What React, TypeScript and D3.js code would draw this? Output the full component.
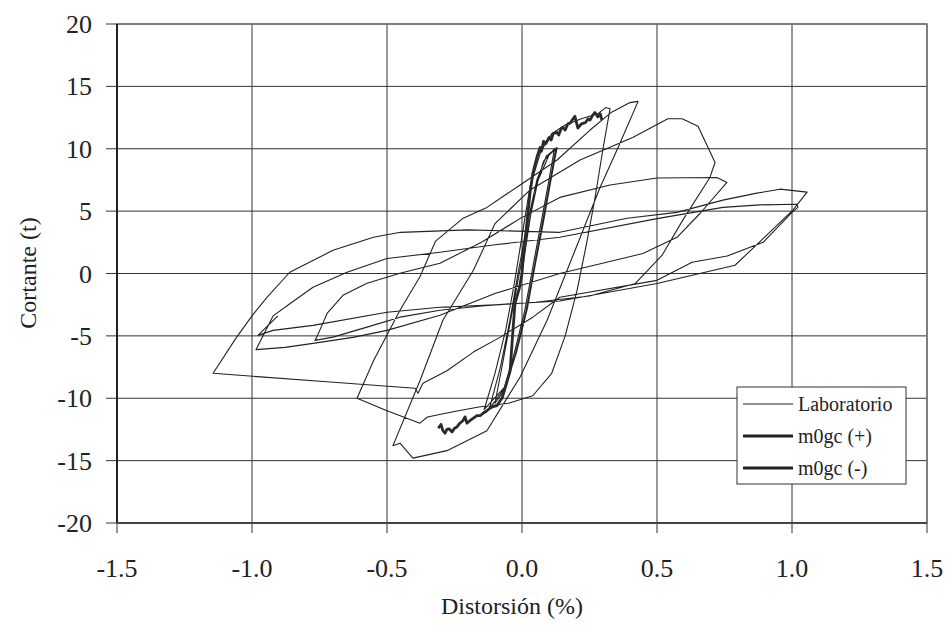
import React from "react";
import * as d3 from "d3";

// Distorsión (%) vs Cortante (t)
const xTicks = [-1.5, -1.0, -0.5, 0.0, 0.5, 1.0, 1.5];
const yTicks = [-20, -15, -10, -5, 0, 5, 10, 15, 20];

// laboratory loop, traced cycle by cycle
const labSmall = [
  [0, 0], [0.02, 3], [0.045, 6.5], [0.08, 9], [0.12, 10], [0.1, 7.5], [0.07, 4], [0.04, 0.5],
  [0.01, -3], [-0.03, -6.5], [-0.07, -9.5], [-0.1, -10.4], [-0.07, -7], [-0.04, -3.5], [-0.01, 0],
  [0.025, 4], [0.06, 7.5], [0.1, 9.5], [0.125, 10], [0.105, 7.5], [0.075, 4], [0.045, 0.5],
  [0.015, -3], [-0.025, -6.5], [-0.065, -9.2], [-0.12, -10.8], [-0.08, -7.5], [-0.045, -3.8],
  [-0.015, 0], [0.02, 4], [0.055, 7.5], [0.09, 9.4], [0.13, 10.1], [0.11, 7.8], [0.08, 4.2],
  [0.05, 0.8], [0.02, -2.8], [-0.02, -6.3], [-0.06, -9], [-0.14, -10.9],
];
const labCycle2 = [
  [-0.1, -8], [-0.06, -4.5], [-0.03, -1], [0.0, 3], [0.03, 7], [0.07, 9.8], [0.11, 11.2],
  [0.16, 11.9], [0.22, 12.4], [0.28, 12.8], [0.31, 13.3], [0.326, 13.2],
  [0.3, 10], [0.27, 6], [0.24, 2.5], [0.204, -1.35], [0.16, -5], [0.11, -8], [0.04, -9.8],
  [-0.05, -10.4], [-0.16, -10.7], [-0.26, -11.1], [-0.35, -11.5], [-0.378, -12.0], [-0.5, -11],
  [-0.611, -10.0],
];
const labCycle3 = [
  [-0.55, -7], [-0.452, -2.95], [-0.378, -0.26], [-0.32, 2.6], [-0.22, 4.4], [-0.13, 5.3],
  [0.0, 7.2], [0.13, 9.1], [0.252, 11.5], [0.33, 12.9], [0.4, 13.7], [0.43, 13.8],
  [0.36, 10.3], [0.289, 6.9], [0.19, 1.5], [0.093, -3.75], [-0.007, -8.3], [-0.13, -12.6],
  [-0.278, -14.2], [-0.404, -14.8], [-0.452, -13.6], [-0.478, -13.8],
];
const labCycle4 = [
  [-0.378, -8.6], [-0.293, -3.75], [-0.18, 0.26], [-0.1, 4.0], [0.03, 6.7], [0.215, 9.1],
  [0.41, 10.9], [0.54, 12.4], [0.593, 12.4], [0.652, 11.8], [0.715, 8.9], [0.696, 7.7],
  [0.596, 4.3], [0.52, 1.5], [0.42, -0.8], [0.25, -1.8], [0.05, -2.3], [-0.15, -2.6],
  [-0.304, -2.95], [-0.452, -3.5], [-0.574, -4.3], [-0.7, -5.1], [-0.767, -5.36],
];
const labCycle5 = [
  [-0.76, -5.1], [-0.722, -3.2], [-0.663, -1.75], [-0.574, -0.78], [-0.452, 0.02], [-0.304, 0.82],
  [-0.15, 2.5], [0.0, 4.5], [0.14, 6.1], [0.326, 7.1], [0.5, 7.65], [0.722, 7.7], [0.759, 7.3],
  [0.66, 4.83], [0.574, 2.9], [0.448, 1.6], [0.14, 0.0], [-0.1, -1.6], [-0.304, -3.35],
  [-0.5, -4.56], [-0.626, -5.12], [-0.774, -5.6], [-0.878, -5.92], [-0.985, -6.1],
];
const labCycle6 = [
  [-0.95, -4.6], [-0.922, -3.4], [-0.852, -2.3], [-0.774, -1.1], [-0.648, 0.1], [-0.5, 1.2],
  [-0.304, 1.7], [-0.1, 2.3], [0.14, 2.9], [0.5, 4.4], [0.744, 5.3], [0.881, 5.5], [1.019, 5.55],
  [1.022, 5.3], [1.0, 4.9], [0.893, 2.5], [0.76, 1.4], [0.63, 0.9], [0.5, -0.55], [0.14, -1.9],
  [0.04, -3.5], [-0.08, -5.1], [-0.18, -6.3], [-0.278, -7.8], [-0.367, -8.8], [-0.385, -9.6],
  [-0.396, -9.2], [-0.711, -8.7], [-1.144, -8.0],
];
const labCycle7 = [
  [-1.06, -5.2], [-1.0, -3.4], [-0.944, -1.9], [-0.86, 0.1], [-0.7, 1.86], [-0.55, 2.9], [-0.45, 3.3],
  [-0.2, 3.5], [0.14, 3.3], [0.389, 4.43], [0.574, 4.9], [0.744, 5.88], [0.87, 6.44],
  [0.956, 6.76], [1.056, 6.52], [1.004, 5.1], [0.893, 2.8], [0.789, 0.66], [0.5, -0.8],
  [0.14, -2.2], [-0.1, -2.5], [-0.304, -2.7], [-0.5, -3.1], [-0.774, -4.16], [-0.922, -4.56],
  [-0.978, -4.96], [-0.904, -3.4],
];

const m0gcPos = [
  [0, 0], [0.005, 1.5], [0.018, 4.0], [0.03, 6.5], [0.04, 8.0], [0.055, 9.3], [0.067, 10.1],
  [0.072, 9.8], [0.08, 10.6], [0.088, 10.4], [0.1, 10.9], [0.108, 10.7], [0.115, 11.2],
  [0.13, 11.3], [0.136, 11.1], [0.145, 11.6], [0.152, 11.7], [0.16, 11.5], [0.17, 12.0],
  [0.178, 12.05], [0.186, 12.3], [0.196, 12.6], [0.207, 11.65], [0.22, 12.0], [0.235, 12.1],
  [0.245, 12.4], [0.252, 12.3], [0.262, 12.7], [0.27, 12.9], [0.281, 12.55], [0.29, 12.8],
  [0.296, 12.3],
];
const m0gcNeg = [
  [0, 0], [-0.01, -1.2], [-0.026, -2.4], [-0.035, -5], [-0.044, -7.8], [-0.06, -9],
  [-0.074, -10.0], [-0.081, -10.2], [-0.093, -10.6], [-0.11, -10.7], [-0.119, -10.8],
  [-0.13, -11.0], [-0.144, -11.2], [-0.155, -11.4], [-0.167, -11.4], [-0.18, -11.6],
  [-0.193, -11.8], [-0.204, -12.0], [-0.211, -11.5], [-0.219, -11.8], [-0.23, -12.0],
  [-0.241, -12.3], [-0.25, -12.4], [-0.259, -12.7], [-0.27, -12.45], [-0.278, -12.5],
  [-0.285, -12.8], [-0.293, -12.6], [-0.3, -12.1], [-0.31, -12.4],
];

const labPath = [
  ...labSmall, ...labCycle2, ...labCycle3, ...labCycle4,
  ...labCycle5, ...labCycle6, ...labCycle7,
];

const legendItems = [
  { label: "Laboratorio", width: 1 },
  { label: "m0gc (+)", width: 3 },
  { label: "m0gc (-)", width: 3 },
];

const W = 952;
const H = 634;
const left = 117;
const right = 927;
const top = 24;
const bottom = 523;
const font = "'Liberation Serif', 'Times New Roman', serif";

// plain hyphen for negatives, like the original
const fmtY = (v: number) => d3.format("d")(v).replace("\u2212", "-");
const fmtX = (v: number) => d3.format(".1f")(v).replace("\u2212", "-");

export default function App() {
  const x = d3.scaleLinear().domain([-1.5, 1.5]).range([left, right]);
  const y = d3.scaleLinear().domain([-20, 20]).range([bottom, top]);
  const line = d3
    .line<number[]>()
    .x((d) => x(d[0]))
    .y((d) => y(d[1]));

  return (
    <svg
      width={W}
      height={H}
      style={{ position: "absolute", left: 0, top: 0, background: "#fff" }}
    >
      {/* grid */}
      {xTicks.map((t) => (
        <line key={"gx" + t} x1={x(t)} x2={x(t)} y1={top} y2={bottom + 10} stroke="#333" strokeWidth={1} />
      ))}
      {yTicks.map((t) => (
        <line key={"gy" + t} x1={left - 11} x2={right} y1={y(t)} y2={y(t)} stroke="#333" strokeWidth={1} />
      ))}
      <rect x={left} y={top} width={right - left} height={bottom - top} fill="none" stroke="#777" strokeWidth={1.5} />
      <line x1={left} x2={left} y1={top} y2={bottom} stroke="#222" strokeWidth={2} />
      <line x1={left} x2={right} y1={bottom} y2={bottom} stroke="#444" strokeWidth={2} />

      {/* series */}
      <path d={line(labPath) || ""} fill="none" stroke="#222" strokeWidth={1.1} strokeLinejoin="round" />
      <path d={line(m0gcPos) || ""} fill="none" stroke="#2a2a2a" strokeWidth={2.8} strokeLinejoin="round" />
      <path d={line(m0gcNeg) || ""} fill="none" stroke="#2a2a2a" strokeWidth={2.8} strokeLinejoin="round" />

      {/* tick labels */}
      {yTicks.map((t) => (
        <text key={"ly" + t} x={92} y={y(t)} dy="0.35em" textAnchor="end" fontFamily={font} fontSize={26} fill="#222">
          {fmtY(t)}
        </text>
      ))}
      {xTicks.map((t) => (
        <text key={"lx" + t} x={x(t)} y={577} textAnchor="middle" fontFamily={font} fontSize={26} fill="#222">
          {fmtX(t)}
        </text>
      ))}

      {/* axis titles */}
      <text x={512} y={614} textAnchor="middle" fontFamily={font} fontSize={24} fill="#222">
        Distorsión (%)
      </text>
      <text transform="translate(36,273) rotate(-90)" textAnchor="middle" fontFamily={font} fontSize={24} fill="#222">
        Cortante (t)
      </text>

      {/* legend */}
      <rect x={737} y={387} width={169} height={97} fill="#fff" stroke="#333" strokeWidth={1} />
      {legendItems.map((it, i) => {
        const ly = 404 + i * 32;
        return (
          <g key={it.label}>
            <line x1={743} x2={793} y1={ly} y2={ly} stroke="#222" strokeWidth={it.width} />
            <text x={798} y={ly + 7} fontFamily={font} fontSize={20} fill="#222">
              {it.label}
            </text>
          </g>
        );
      })}
    </svg>
  );
}
